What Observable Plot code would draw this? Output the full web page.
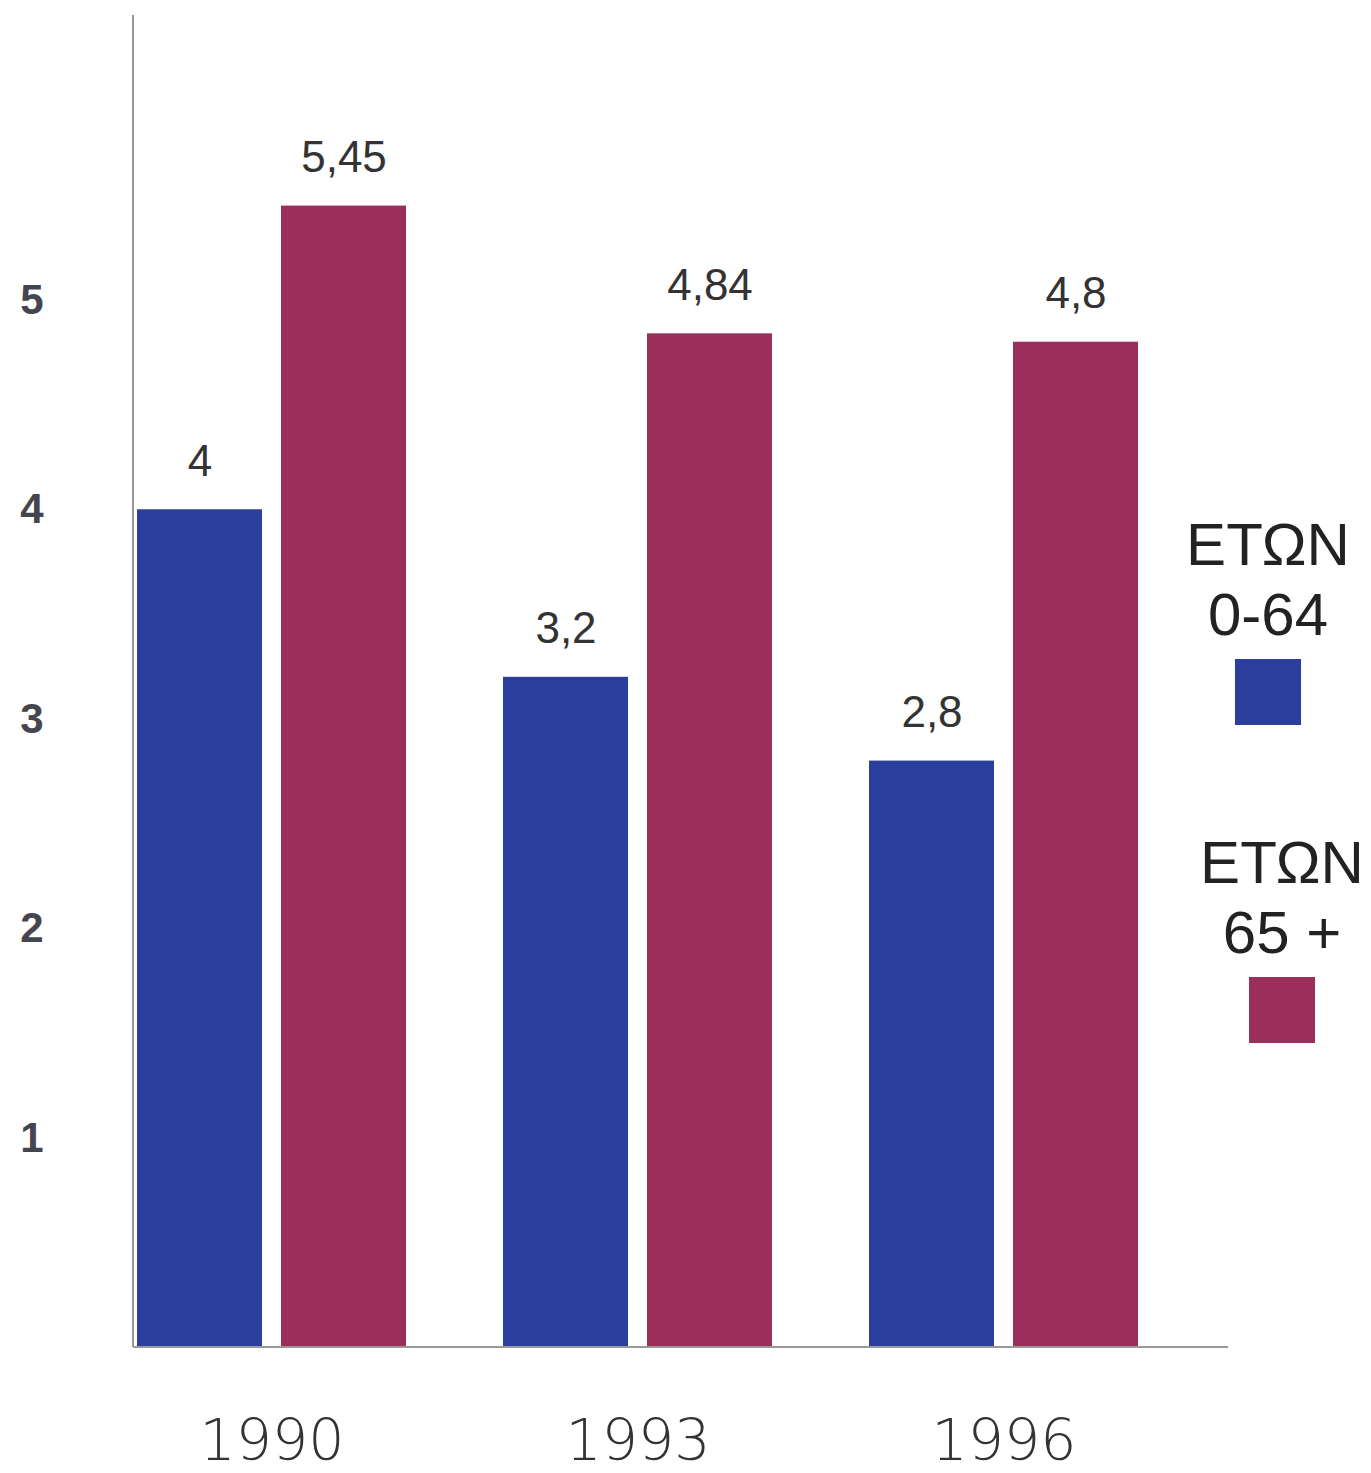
<!DOCTYPE html>
<html>
<head>
<meta charset="utf-8">
<script src="https://cdn.jsdelivr.net/npm/d3@7"></script>
<script src="https://cdn.jsdelivr.net/npm/@observablehq/plot@0.6"></script>
<style>
  html, body { margin: 0; padding: 0; background: #ffffff; }
  #wrap { position: relative; width: 1371px; height: 1473px; overflow: hidden; font-family: "Liberation Sans", Arial, sans-serif; }
  .leg { position: absolute; text-align: center; font-size: 60px; line-height: 70px; color: #222; width: 200px; }
  .sw { width: 66px; height: 66px; margin: 9px auto 0 auto; }
</style>
</head>
<body>
<div id="wrap"></div>
<script>
const years = ["1990", "1993", "1996"];
const seriesNames = ["ΕΤΩΝ 0-64", "ΕΤΩΝ 65 +"];
const valuesYoung = [4, 3.2, 2.8];
const valuesOld = [5.45, 4.84, 4.8];
const labelsYoung = ["4", "3,2", "2,8"];
const labelsOld = ["5,45", "4,84", "4,8"];
const yTicks = [1, 2, 3, 4, 5];
const colors = ["#2b3f9c", "#9a2f5c"];

const rows = [];
years.forEach((yr, i) => {
  rows.push({year: yr, series: seriesNames[0], value: valuesYoung[i], label: labelsYoung[i]});
  rows.push({year: yr, series: seriesNames[1], value: valuesOld[i], label: labelsOld[i]});
});

const plot = Plot.plot({
  width: 1371,
  height: 1473,
  marginLeft: 135,
  marginRight: 231,
  marginTop: 15,
  marginBottom: 126,
  style: {background: "transparent", fontFamily: "Liberation Sans, Arial, sans-serif", color: "#333"},
  facet: {data: rows, x: "year"},
  fx: {domain: years, paddingInner: 0.26, paddingOuter: 0, label: null, tickSize: 0, tickPadding: 72, axis: "bottom"},
  x: {domain: seriesNames, paddingInner: 0.13, paddingOuter: 0, axis: null},
  y: {domain: [0, 6.36], ticks: yTicks, tickSize: 0, tickPadding: 93, label: null, tickFormat: d => String(d)},
  color: {domain: seriesNames, range: colors},
  marks: [
    Plot.barY(rows, {x: "series", y: "value", fill: "series"}),
    Plot.text(rows, {x: "series", y: "value", text: "label", dy: -48, fontSize: 44, fill: "#333"})
  ]
});

const wrap = document.getElementById("wrap");
wrap.appendChild(plot);

const svg = d3.select(plot);
svg.selectAll('g[aria-label^="y-axis"] text')
  .attr("font-size", 42).attr("font-weight", "bold").attr("fill", "#45454f");
svg.selectAll('g[aria-label^="fx-axis"] text')
  .attr("font-size", 57).attr("font-family", "DejaVu Sans").attr("font-weight", 200).attr("fill", "#333");

// axis lines positioned through the plot's own y scale
const ys = plot.scale("y");
const y0 = ys.apply(0);
const yTop = ys.apply(ys.domain[1]);
svg.append("line").attr("x1", 133).attr("x2", 133).attr("y1", yTop).attr("y2", y0)
  .attr("stroke", "#999").attr("stroke-width", 2);
svg.append("line").attr("x1", 133).attr("x2", 1228).attr("y1", y0).attr("y2", y0)
  .attr("stroke", "#999").attr("stroke-width", 2);

// legend
const legendPos = [{left: 1168, top: 510}, {left: 1182, top: 828}];
seriesNames.forEach((name, i) => {
  const parts = name.split(" ");
  const d = document.createElement("div");
  d.className = "leg";
  d.style.left = legendPos[i].left + "px";
  d.style.top = legendPos[i].top + "px";
  d.innerHTML = `<div>${parts[0]}</div><div>${parts.slice(1).join(" ")}</div><div class="sw" style="background:${colors[i]}"></div>`;
  wrap.appendChild(d);
});
</script>
</body>
</html>
